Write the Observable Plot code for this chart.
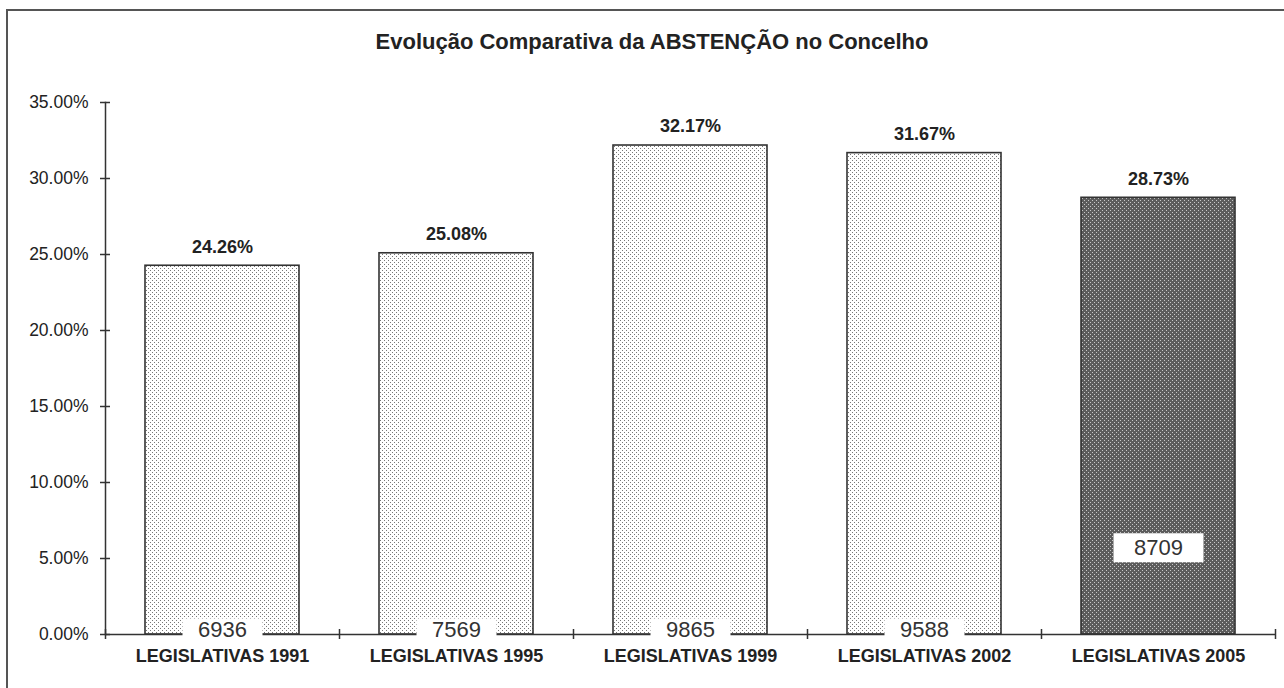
<!DOCTYPE html>
<html>
<head>
<meta charset="utf-8">
<script src="https://cdn.jsdelivr.net/npm/d3@7"></script>
<script src="https://cdn.jsdelivr.net/npm/@observablehq/plot@0.6"></script>
<style>
  html, body { margin: 0; padding: 0; background: #fff; width: 1284px; height: 688px; overflow: hidden; }
  #frame { position: absolute; left: 6px; top: 9px; width: 1300px; height: 700px; border: 2px solid #555; box-sizing: border-box; }
  #title { position: absolute; left: 0; top: 29px; width: 1304px; text-align: center; font-family: "Liberation Sans", Arial, sans-serif; font-weight: bold; font-size: 22px; color: #222; }
  #chart { position: absolute; left: 0; top: 0; }
</style>
</head>
<body>
<div id="frame"></div>
<div id="title">Evolução Comparativa da ABSTENÇÃO no Concelho</div>
<div id="chart"></div>
<script>
// ---- data ----
const categories = ["LEGISLATIVAS 1991", "LEGISLATIVAS 1995", "LEGISLATIVAS 1999", "LEGISLATIVAS 2002", "LEGISLATIVAS 2005"];
const abstention = [0.2426, 0.2508, 0.3217, 0.3167, 0.2873];
const abstainers = [6936, 7569, 9865, 9588, 8709];
const yTicks = [0, 0.05, 0.10, 0.15, 0.20, 0.25, 0.30, 0.35];

// layout-only: vertical anchor of the count labels (last one sits inside the bar)
const countAnchor = [0, 0, 0, 0, 0.057];

const rows = categories.map((c, i) => ({
  cat: c, value: abstention[i], count: abstainers[i], anchor: countAnchor[i], highlight: i === categories.length - 1
}));
const normal = rows.filter(d => !d.highlight);
const special = rows.filter(d => d.highlight);

const font = '"Liberation Sans", Arial, sans-serif';
const pct = d3.format(".2%");
const boxSmall = { draw(ctx) { ctx.rect(-40, -11, 80, 22); } };
const boxLarge = { draw(ctx) { ctx.rect(-45, -14.5, 90, 29); } };
const barOpts = { x: "cat", y: "value", insetLeft: 40, insetRight: 40, stroke: "#333", strokeWidth: 1.6 };

const plot = Plot.plot({
  width: 1284,
  height: 688,
  marginLeft: 105,
  marginRight: 9,
  marginTop: 102,
  marginBottom: 54,
  style: { fontFamily: font, color: "#222", background: "transparent" },
  x: { domain: categories, padding: 0, label: null },
  y: { domain: [0, 0.35], label: null },
  marks: [
    Plot.barY(normal, { ...barOpts, fill: "url(#patLight)" }),
    Plot.barY(special, { ...barOpts, fill: "url(#patDark)" }),
    Plot.ruleY([0], { stroke: "#333", strokeWidth: 1.5 }),
    Plot.frame({ anchor: "left", stroke: "#333", strokeWidth: 1.5 }),
    // y axis: ticks crossing the axis line
    Plot.axisY({ ticks: yTicks, tickFormat: pct, tickSize: 10, tickPadding: 12, dx: 5, fontSize: 17.5, fill: "#222", stroke: "#333", strokeWidth: 1.5, label: null }),
    // x axis: ticks at the category boundaries
    Plot.axisX({ tickSize: 10, dy: -5, dx: -117, tickFormat: () => "", stroke: "#333", strokeWidth: 1.5, label: null }),
    Plot.axisX({ ticks: [categories[categories.length - 1]], tickSize: 10, dy: -5, dx: 117, tickFormat: () => "", stroke: "#333", strokeWidth: 1.5, label: null }),
    // x labels
    Plot.axisX({ tickSize: 0, tickPadding: 15, fontSize: 18, fontWeight: "bold", fill: "#222", label: null }),
    // value labels above bars
    Plot.text(rows, { x: "cat", y: "value", text: d => pct(d.value), dy: -19, fontSize: 18, fontWeight: "bold", fill: "#222" }),
    // count labels on white boxes
    Plot.dot(normal, { x: "cat", y: "anchor", dy: -5, symbol: boxSmall, fill: "white", stroke: "none" }),
    Plot.dot(special, { x: "cat", y: "anchor", symbol: boxLarge, fill: "white", stroke: "none" }),
    Plot.text(normal, { x: "cat", y: "anchor", dy: -5, text: d => String(d.count), fontSize: 22, fill: "#333" }),
    Plot.text(special, { x: "cat", y: "anchor", text: d => String(d.count), fontSize: 22, fill: "#333" })
  ]
});

// patterns for the stippled bars
const svg = d3.select(plot);
const defs = svg.insert("defs", ":first-child");
const light = defs.append("pattern").attr("id", "patLight").attr("patternUnits", "userSpaceOnUse").attr("width", 4).attr("height", 4);
light.append("rect").attr("width", 4).attr("height", 4).attr("fill", "#fff");
light.append("rect").attr("x", 0).attr("y", 0).attr("width", 1).attr("height", 1).attr("fill", "#777");
light.append("rect").attr("x", 2).attr("y", 2).attr("width", 1).attr("height", 1).attr("fill", "#777");
const dark = defs.append("pattern").attr("id", "patDark").attr("patternUnits", "userSpaceOnUse").attr("width", 4).attr("height", 4);
dark.append("rect").attr("width", 4).attr("height", 4).attr("fill", "#5c5c5c");
dark.append("rect").attr("x", 0).attr("y", 0).attr("width", 1).attr("height", 1).attr("fill", "#c8c8c8");
dark.append("rect").attr("x", 2).attr("y", 2).attr("width", 1).attr("height", 1).attr("fill", "#c8c8c8");

document.getElementById("chart").appendChild(plot);
</script>
</body>
</html>
